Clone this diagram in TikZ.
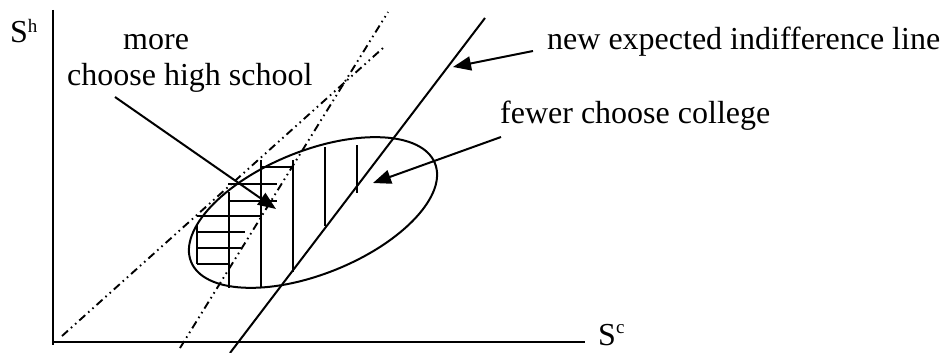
\documentclass[tikz,border=0pt]{standalone}
\usepackage{fontspec}
\setmainfont{Liberation Serif}
\usetikzlibrary{arrows.meta}
\begin{document}
\begin{tikzpicture}[x=1pt,y=-1pt,
  lbl/.style={anchor=base west,inner sep=0pt,font=\fontsize{32}{38}\selectfont},
  axisline/.style={line width=2.2pt},
  solidline/.style={line width=2pt},
  ddline/.style={line width=1.9pt,dash pattern=on 8pt off 4pt on 1.6pt off 4pt on 1.6pt off 4pt},
  arr/.style={line width=2pt,-{Triangle[length=18pt,width=14pt]}},
  hatch/.style={line width=2pt}]
\useasboundingbox (0,0) rectangle (943,353);

% axes
\coordinate (ytop) at (53,10);
\coordinate (origin) at (53,345);
\coordinate (xo) at (52,342);
\coordinate (xend) at (585,342);
\draw[axisline] (ytop) -- (origin);
\draw[axisline] (xo) -- (xend);

% labels
\node[lbl] (sh) at (10,43) {S\raisebox{10pt}{\fontsize{19}{19}\selectfont h}};
\node[lbl] (sc) at (598,345) {S\raisebox{12pt}{\fontsize{19}{19}\selectfont c}};
\node[lbl] (more) at (123,50) {more};
\node[lbl] (hs) at (67,85) {choose high school};
\node[lbl] (newl) at (547,50) {new expected indifference line};
\node[lbl] (fewer) at (500,123) {fewer choose college};

% lines
\coordinate (dA1) at (62,336);
\coordinate (dA2) at (383,48);
\coordinate (dB1) at (180,348);
\coordinate (dB2) at (388,12);
\coordinate (sL1) at (230,353);
\coordinate (sL2) at (485,18);
\draw[ddline] (dA1) -- (dA2);
\draw[ddline] (dB1) -- (dB2);
\draw[solidline] (sL1) -- (sL2);

% ellipse
\draw[solidline, rotate around={22:(313,212.5)}] (313,212.5) ellipse [x radius=131.5, y radius=61.5];

% vertical hatching
\draw[hatch] (197,224) -- (197,264);
\draw[hatch] (229,192) -- (229,288);
\draw[hatch] (261,160) -- (261,288);
\draw[hatch] (293,160) -- (293,272);
\draw[hatch] (325,147) -- (325,226);
\draw[hatch] (357,145) -- (357,193);
% horizontal hatching
\draw[hatch] (261,167) -- (293,167);
\draw[hatch] (228,184) -- (277,184);
\draw[hatch] (229,200.5) -- (277,200.5);
\draw[hatch] (197,215.5) -- (261,215.5);
\draw[hatch] (197,231.5) -- (245,231.5);
\draw[hatch] (197,247.5) -- (241,247.5);
\draw[hatch] (197,263.5) -- (229,263.5);

% arrows
\coordinate (hsS) at (115,97);
\coordinate (hsT) at (276,209);
\coordinate (nlS) at (533,51);
\coordinate (nlT) at (453,67);
\coordinate (fcS) at (501,137);
\coordinate (fcT) at (373,183);
\draw[arr] (hsS) -- (hsT);
\draw[arr] (nlS) -- (nlT);
\draw[arr] (fcS) -- (fcT);
\end{tikzpicture}
\end{document}
